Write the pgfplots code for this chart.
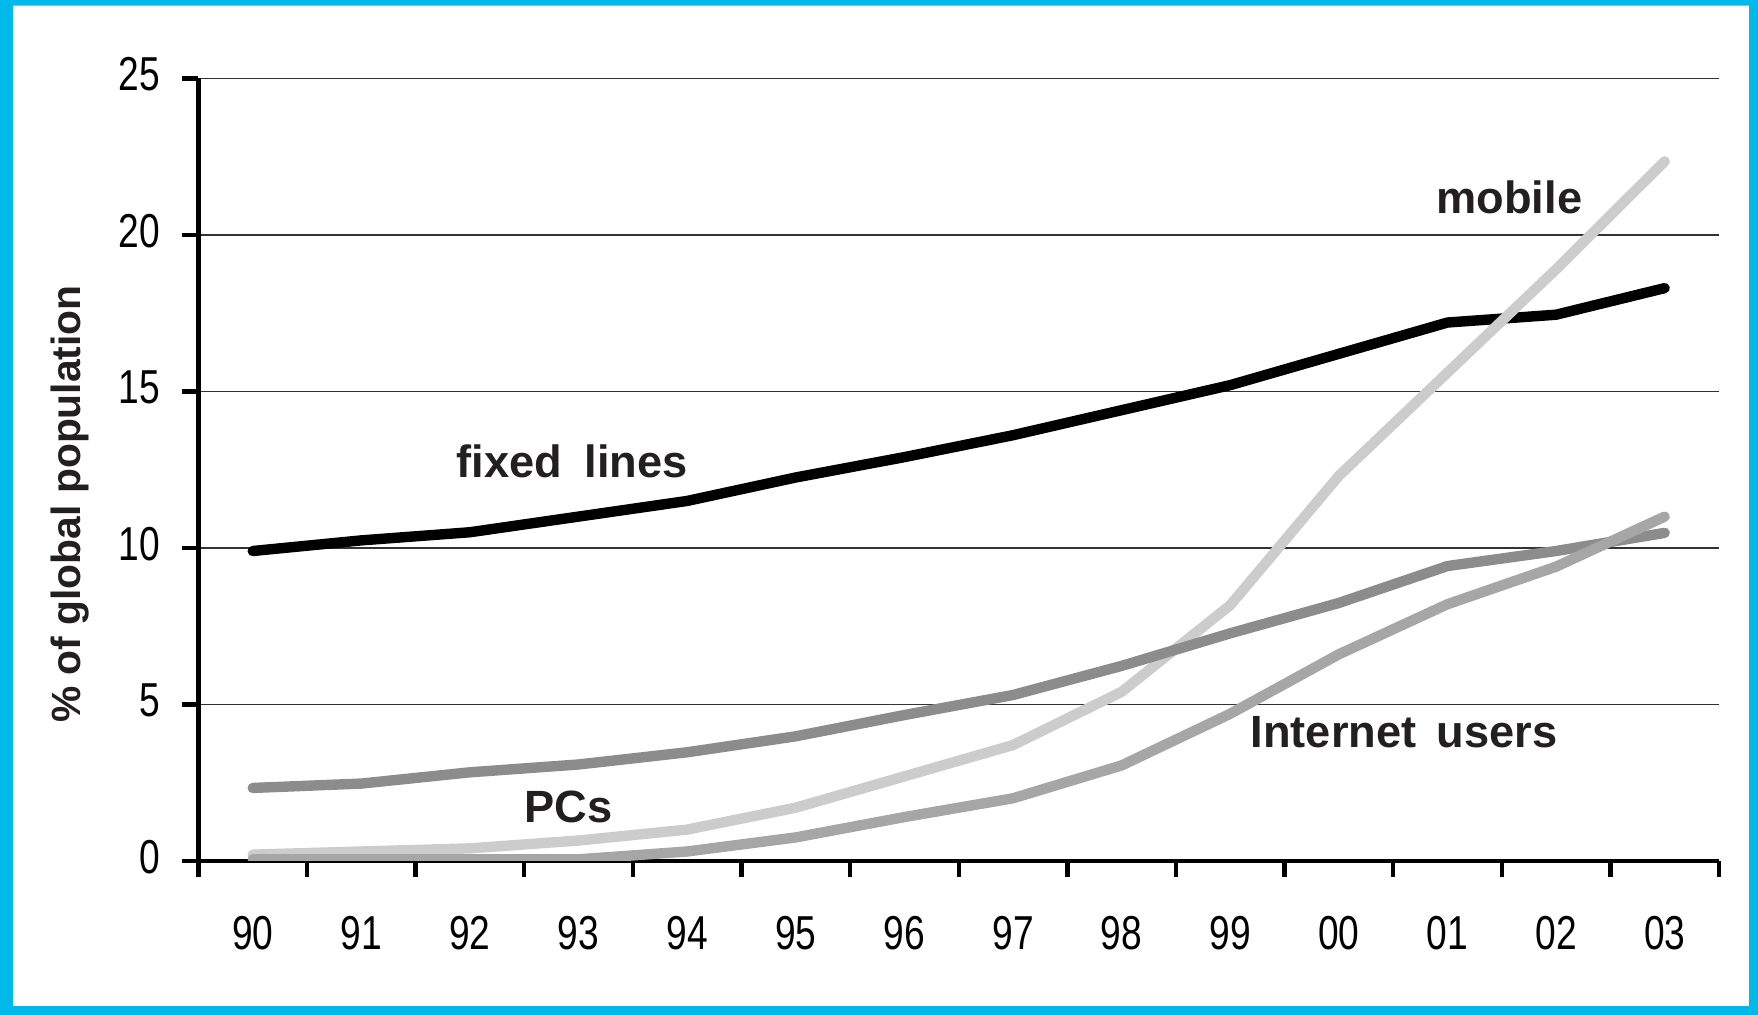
\documentclass[border=0pt]{standalone}
\usepackage{pgfplots}
\pgfplotsset{compat=1.18}
\usepackage{fontspec}
\setmainfont{Liberation Sans}
\newfontfamily\narrowfont[FakeStretch=0.78]{Liberation Sans}
\definecolor{framecyan}{RGB}{0,185,235}
\definecolor{labelgray}{HTML}{231F20}
\definecolor{pcgray}{HTML}{8C8C8C}
\definecolor{netgray}{HTML}{A6A6A6}
\definecolor{mobgray}{HTML}{CCCCCC}
\newcommand{\lbl}{\fontsize{11.3}{13}\selectfont\bfseries\color{labelgray}}
\begin{document}
\begin{tikzpicture}
\begin{axis}[
  scale only axis,
  width=380.1pt, height=195.6pt,
  xmin=-0.5, xmax=13.5,
  ymin=0, ymax=25,
  axis x line*=bottom, axis y line*=left,
  axis line style={-, line width=1.1pt, black},
  xtick={0,...,13},
  xticklabels={90,91,92,93,94,95,96,97,98,99,00,01,02,03},
  major x tick style={draw=none},
  minor xtick={-0.5,0.5,...,13.5},
  minor x tick style={line width=1.1pt, black},
  ytick={0,5,...,25},
  major y tick style={line width=1.1pt, black},
  tick align=outside,
  major tick length=4pt, minor tick length=4pt,
  ymajorgrids,
  major grid style={line width=0.4pt, draw=black!80},
  tick label style={font=\narrowfont\fontsize{11.9}{14}\selectfont, text=black},
  /pgf/number format/assume math mode=true,
  xticklabel style={yshift=-6.4pt},
  yticklabel style={xshift=-2pt, yshift=1pt},
  ylabel={\% of global population},
  every axis y label/.style={at={(rel axis cs:0,0.5)}, anchor=center,
    xshift=-32pt, yshift=-8.6pt, rotate=90,
    font=\fontsize{10.2}{12}\selectfont\bfseries, text=labelgray},
  every axis plot/.append style={line width=2.6pt, line cap=round, line join=round},
]
\addplot[black] coordinates {
  (0,9.9) (1,10.24) (2,10.5) (3,11.0) (4,11.5) (5,12.25) (6,12.9)
  (7,13.6) (8,14.4) (9,15.2) (10,16.2) (11,17.2) (12,17.45) (13,18.3)};
\addplot[mobgray] coordinates {
  (0,0.2) (1,0.3) (2,0.4) (3,0.65) (4,1.0) (5,1.7) (6,2.7)
  (7,3.7) (8,5.4) (9,8.17) (10,12.3) (11,15.6) (12,18.9) (13,22.35)};
\addplot[pcgray] coordinates {
  (0,2.33) (1,2.47) (2,2.83) (3,3.08) (4,3.47) (5,3.98) (6,4.66)
  (7,5.3) (8,6.23) (9,7.27) (10,8.24) (11,9.42) (12,9.9) (13,10.48)};
\addplot[netgray] coordinates {
  (0,0.05) (1,0.05) (2,0.05) (3,0.05) (4,0.3) (5,0.75) (6,1.4)
  (7,2.0) (8,3.05) (9,4.7) (10,6.6) (11,8.2) (12,9.4) (13,11.0)};
\node at (axis cs:2.94,12.75) {\lbl fixed\hspace{0.5em}lines};
\node at (axis cs:11.57,21.2) {\lbl mobile};
\node at (axis cs:2.91,1.72) {\lbl PCs};
\node at (axis cs:10.6,4.12) {\lbl Internet\hspace{0.45em}users};
\end{axis}
\path (current axis.south west) ++(-49.6pt,-38.5pt) coordinate (FA);
\path (current axis.north east) ++(9.75pt,19.6pt) coordinate (FB);
\fill[framecyan, even odd rule] (FA) rectangle (FB)
  ([xshift=3.3pt,yshift=2.2pt]FA) rectangle ([xshift=-2.2pt,yshift=-1.4pt]FB);
\end{tikzpicture}
\end{document}
